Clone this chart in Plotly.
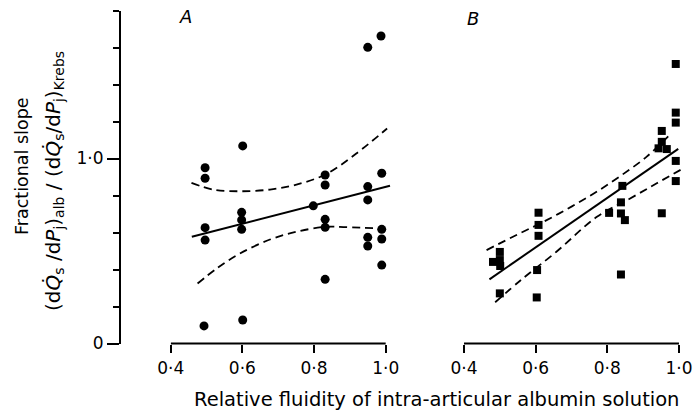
import plotly.graph_objects as go

W, H = 693, 412

# ---------------- data ----------------
# Panel A (circles)
a_x = [0.496, 0.496, 0.496, 0.496, 0.493,
       0.601, 0.598, 0.598, 0.598, 0.601,
       0.798,
       0.831, 0.831, 0.831, 0.831, 0.831,
       0.950, 0.950, 0.950, 0.950, 0.950,
       0.987, 0.989, 0.989, 0.989, 0.989]
a_y = [0.950, 0.893, 0.626, 0.559, 0.095,
       1.068, 0.709, 0.668, 0.617, 0.127,
       0.744,
       0.911, 0.857, 0.671, 0.628, 0.347,
       1.601, 0.848, 0.776, 0.574, 0.527,
       1.662, 0.920, 0.617, 0.565, 0.424]
a_fit_x = [0.459, 1.012]
a_fit_y = [0.577, 0.853]
a_upper_x = [0.458, 0.519, 0.593, 0.677, 0.751, 0.833, 0.918, 1.004]
a_upper_y = [0.868, 0.832, 0.823, 0.832, 0.859, 0.915, 1.027, 1.162]
a_lower_x = [0.475, 0.528, 0.593, 0.677, 0.751, 0.833, 0.890, 0.988]
a_lower_y = [0.324, 0.405, 0.486, 0.562, 0.604, 0.631, 0.629, 0.622]

# Panel B (squares)
b_x = [0.481, 0.500, 0.500, 0.501, 0.500,
       0.608, 0.608, 0.608, 0.604, 0.603,
       0.805,
       0.842, 0.838, 0.838, 0.849, 0.838,
       0.952, 0.952, 0.943, 0.966, 0.952,
       0.991, 0.991, 0.991, 0.991, 0.991]
b_y = [0.441, 0.495, 0.451, 0.419, 0.271,
       0.707, 0.641, 0.582, 0.397, 0.249,
       0.706,
       0.852, 0.763, 0.703, 0.667, 0.373,
       1.149, 1.090, 1.055, 1.051, 0.704,
       1.511, 1.248, 1.194, 0.987, 0.878]
b_fit_x = [0.471, 0.998]
b_fit_y = [0.347, 1.052]
b_upper_x = [0.463, 0.550, 0.622, 0.700, 0.770, 0.840, 0.910, 0.970]
b_upper_y = [0.505, 0.590, 0.658, 0.740, 0.820, 0.910, 1.010, 1.120]
b_lower_x = [0.487, 0.560, 0.658, 0.771, 0.860, 0.938, 1.012]
b_lower_y = [0.223, 0.345, 0.496, 0.685, 0.780, 0.866, 0.947]

x_ticks = [0.4, 0.6, 0.8, 1.0]
x_ticktext = ["0·4", "0·6", "0·8", "1·0"]
y_ticks = [0, 1.0]
y_ticktext = ["0", "1·0"]
y_minor = [0.2, 0.4, 0.6, 0.8, 1.2, 1.4, 1.6, 1.8]

# ---------------- layout geometry (pixels) ----------------
FONT = "DejaVu Sans"
px_per_x = 358.3
y0_px, y_top_px = 343.5, 10.5
ydom = [(H - y0_px) / H, (H - y_top_px) / H]
xrange_ = [0.4, 1.03]
a_left = 170.7
b_left = 464.0
span = (xrange_[1] - xrange_[0]) * px_per_x
xdomA = [a_left / W, (a_left + span) / W]
xdomB = [b_left / W, min((b_left + span) / W, 1.0)]
yaxis_px = 120.0

fig = go.Figure()

line_solid = dict(color="black", width=2)
line_dash = dict(color="black", width=1.8, dash="8px,5px")

# Panel A
fig.add_trace(go.Scatter(x=a_upper_x, y=a_upper_y, mode="lines", line=dict(**line_dash, shape="spline"),
                         xaxis="x", yaxis="y", showlegend=False))
fig.add_trace(go.Scatter(x=a_lower_x, y=a_lower_y, mode="lines", line=dict(**line_dash, shape="spline"),
                         xaxis="x", yaxis="y", showlegend=False))
fig.add_trace(go.Scatter(x=a_fit_x, y=a_fit_y, mode="lines", line=line_solid,
                         xaxis="x", yaxis="y", showlegend=False))
fig.add_trace(go.Scatter(x=a_x, y=a_y, mode="markers", marker=dict(symbol="circle", size=9, color="black"),
                         xaxis="x", yaxis="y", showlegend=False, cliponaxis=False))

# Panel B
fig.add_trace(go.Scatter(x=b_upper_x, y=b_upper_y, mode="lines", line=dict(**line_dash, shape="spline"),
                         xaxis="x2", yaxis="y", showlegend=False))
fig.add_trace(go.Scatter(x=b_lower_x, y=b_lower_y, mode="lines", line=dict(**line_dash, shape="spline"),
                         xaxis="x2", yaxis="y", showlegend=False))
fig.add_trace(go.Scatter(x=b_fit_x, y=b_fit_y, mode="lines", line=line_solid,
                         xaxis="x2", yaxis="y", showlegend=False))
fig.add_trace(go.Scatter(x=b_x, y=b_y, mode="markers", marker=dict(symbol="square", size=8, color="black"),
                         xaxis="x2", yaxis="y", showlegend=False, cliponaxis=False))

xaxis_common = dict(range=xrange_, showgrid=False, zeroline=False, showline=False, automargin=False,
                    tickmode="array", tickvals=x_ticks, ticktext=x_ticktext,
                    ticks="outside", ticklen=8, tickwidth=2, tickcolor="black",
                    tickfont=dict(family=FONT, size=17, color="black"),
                    ticklabelstandoff=1, anchor="y")

fig.update_layout(
    template="none",
    width=W, height=H,
    margin=dict(l=0, r=0, t=0, b=0, pad=0, autoexpand=False),
    paper_bgcolor="white", plot_bgcolor="white",
    xaxis=dict(domain=xdomA, **xaxis_common),
    xaxis2=dict(domain=xdomB, **xaxis_common),
    yaxis=dict(domain=ydom, range=[0, 1.8], anchor="free", position=yaxis_px / W, automargin=False,
               showgrid=False, zeroline=False, showline=True, linecolor="black", linewidth=2,
               tickmode="array", tickvals=y_ticks, ticktext=y_ticktext,
               ticks="outside", ticklen=12, tickwidth=2, tickcolor="black",
               tickfont=dict(family=FONT, size=17, color="black"),
               minor=dict(tickvals=y_minor, ticks="outside", ticklen=6, tickwidth=2, tickcolor="black",
                          showgrid=False)),
)

# x-axis lines spanning the tick range only
for xr in ["x", "x2"]:
    fig.add_shape(type="line", xref=xr, yref="paper",
                  x0=x_ticks[0], x1=x_ticks[-1], y0=ydom[0], y1=ydom[0],
                  line=dict(color="black", width=2))

def ann(text, xpx, ypx, size, **kw):
    fig.add_annotation(text=text, x=xpx / W, y=1 - ypx / H, xref="paper", yref="paper",
                       showarrow=False, xanchor="center", yanchor="middle",
                       font=dict(family=FONT, size=size, color="black"), **kw)

ann("<i>A</i>", 185, 17, 18)
ann("<i>B</i>", 473, 19, 18)
ann("Relative fluidity of intra-articular albumin solution", 436, 399, 19.5)
ann("Fractional slope", 22, 166, 17.5, textangle=-90)
ann("(d<i>Q\u0307</i><sub>s</sub> /d<i>P</i><sub>j</sub>)<sub>alb</sub> / "
    "(d<i>Q\u0307</i><sub>s</sub>/d<i>P</i><sub>j</sub>)<sub>Krebs</sub>",
    54, 181, 20, textangle=-90)

fig.write_html("out.html")
